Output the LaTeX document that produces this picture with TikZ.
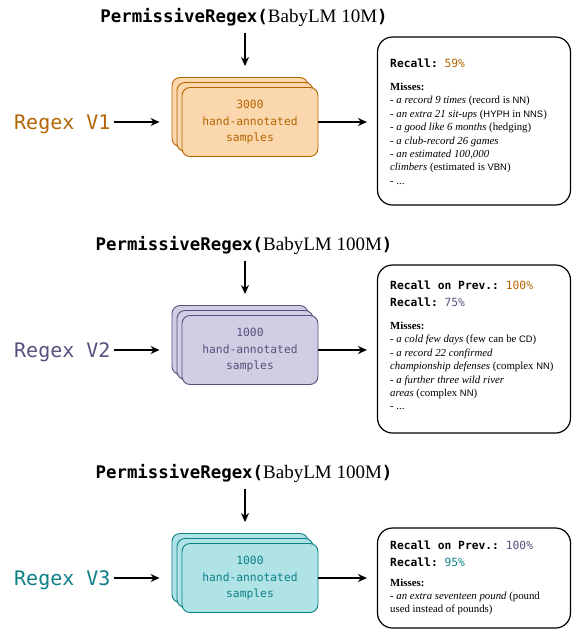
\documentclass[tikz,border=0pt]{standalone}
\usepackage{fontspec}
\setmainfont{Liberation Serif}
\setmonofont{DejaVu Sans Mono}
\newfontfamily\tagfont{Liberation Sans}
\usetikzlibrary{arrows.meta}
\definecolor{orS}{HTML}{B46504}
\definecolor{orF}{HTML}{FAD7AC}
\definecolor{puS}{HTML}{56517E}
\definecolor{puF}{HTML}{D0CEE2}
\definecolor{teS}{HTML}{0E8088}
\definecolor{teF}{HTML}{B0E3E6}
\newcommand\tg[1]{{\tagfont\fontsize{9.4}{9.4}\selectfont #1}}
\newcommand\titlemono[1]{{\ttfamily\bfseries\fontsize{17.4}{19}\selectfont #1}}
\begin{document}
\begin{tikzpicture}[x=1pt,y=-1pt,
  arr/.style={draw=black, line width=1.1pt, -{Stealth[length=9pt,width=8pt]}},
  sample/.style={rounded corners=8pt, line width=0.9pt, minimum width=136pt, minimum height=69pt, inner sep=0pt},
  orbox/.style={sample, draw=orS, fill=orF, text=orS},
  pubox/.style={sample, draw=puS, fill=puF, text=puS},
  tebox/.style={sample, draw=teS, fill=teF, text=teS},
  boxtext/.style={font=\ttfamily\fontsize{11.3}{16.5}\selectfont, align=center},
  titlenode/.style={inner sep=0pt, anchor=base, font=\fontsize{19}{19}\selectfont},
  regex/.style={anchor=base west, inner sep=0pt, font=\ttfamily\fontsize{20}{20}\selectfont},
  recall/.style={draw=black, line width=1.2pt, rounded corners=15pt, minimum width=193pt, inner sep=0pt},
  hdr/.style={anchor=base west, inner sep=0pt, font=\ttfamily\fontsize{11.3}{17}\selectfont},
  miss/.style={anchor=base west, inner sep=0pt, font=\fontsize{10.8}{13.4}\selectfont}]
\useasboundingbox (0,0) rectangle (573,633);

% ---------- Row 1 ----------
\node[titlenode] (t1) at (244,22) {\titlemono{PermissiveRegex(}BabyLM 10M\titlemono{)}};
\node[orbox] (back1) at (240,112) {};
\node[orbox] (mid1) at (245,117) {};
\node[orbox, boxtext] (front1) at (250,122) {3000\\hand-annotated\\samples};
\node[regex, text=orS] (v1) at (14,129) {Regex V1};
\node[recall, minimum height=168pt] (r1) at (474,121) {};
\node[hdr] (h1) at (390,67) {\textbf{Recall:} \textcolor{orS}{59\%}};
\node[miss] (m1) at (390,90.5) {\begin{tabular}[t]{@{}l@{}}
\textbf{Misses:}\\
- \textit{a record 9 times} (record is \tg{NN})\\
- \textit{an extra 21 sit-ups} (\tg{HYPH} in \tg{NNS})\\
- \textit{a good like 6 months} (hedging)\\
- \textit{a club-record 26 games}\\
- \textit{an estimated 100,000}\\
\textit{climbers} (estimated is \tg{VBN})\\
- ...
\end{tabular}};
\draw[arr, shorten <=7pt, shorten >=11pt] (t1.south -| mid1.north) -- (back1.north -| mid1.north);
\draw[arr, shorten <=3pt, shorten >=12pt] (v1.east |- front1.west) -- (back1.west |- front1.west);
\draw[arr, shorten >=10pt] (front1.east) -- (front1.east -| r1.west);

% ---------- Row 2 ----------
\node[titlenode] (t2) at (244,250) {\titlemono{PermissiveRegex(}BabyLM 100M\titlemono{)}};
\node[pubox] (back2) at (240,340) {};
\node[pubox] (mid2) at (245,345) {};
\node[pubox, boxtext] (front2) at (250,350) {1000\\hand-annotated\\samples};
\node[regex, text=puS] (v2) at (14,357) {Regex V2};
\node[recall, minimum height=168pt] (r2) at (474,349) {};
\node[hdr] (h2) at (390,289) {\begin{tabular}[t]{@{}l@{}}
\textbf{Recall on Prev.:} \textcolor{orS}{100\%}\\
\textbf{Recall:} \textcolor{puS}{75\%}
\end{tabular}};
\node[miss] (m2) at (390,329.5) {\begin{tabular}[t]{@{}l@{}}
\textbf{Misses:}\\
- \textit{a cold few days} (few can be \tg{CD})\\
- \textit{a record 22 confirmed}\\
\textit{championship defenses} (complex \tg{NN})\\
- \textit{a further three wild river}\\
\textit{areas} (complex \tg{NN})\\
- ...
\end{tabular}};
\draw[arr, shorten <=7pt, shorten >=11pt] (t2.south -| mid2.north) -- (back2.north -| mid2.north);
\draw[arr, shorten <=3pt, shorten >=12pt] (v2.east |- front2.west) -- (back2.west |- front2.west);
\draw[arr, shorten >=10pt] (front2.east) -- (front2.east -| r2.west);

% ---------- Row 3 ----------
\node[titlenode] (t3) at (244,478) {\titlemono{PermissiveRegex(}BabyLM 100M\titlemono{)}};
\node[tebox] (back3) at (240,568) {};
\node[tebox] (mid3) at (245,573) {};
\node[tebox, boxtext] (front3) at (250,578) {1000\\hand-annotated\\samples};
\node[regex, text=teS] (v3) at (14,585) {Regex V3};
\node[recall, minimum height=100pt] (r3) at (474,578) {};
\node[hdr] (h3) at (390,549) {\begin{tabular}[t]{@{}l@{}}
\textbf{Recall on Prev.:} \textcolor{puS}{100\%}\\
\textbf{Recall:} \textcolor{teS}{95\%}
\end{tabular}};
\node[miss] (m3) at (390,586) {\begin{tabular}[t]{@{}l@{}}
\textbf{Misses:}\\
- \textit{an extra seventeen pound} (pound\\
used instead of pounds)
\end{tabular}};
\draw[arr, shorten <=7pt, shorten >=11pt] (t3.south -| mid3.north) -- (back3.north -| mid3.north);
\draw[arr, shorten <=3pt, shorten >=12pt] (v3.east |- front3.west) -- (back3.west |- front3.west);
\draw[arr, shorten >=10pt] (front3.east) -- (front3.east -| r3.west);
\end{tikzpicture}
\end{document}
